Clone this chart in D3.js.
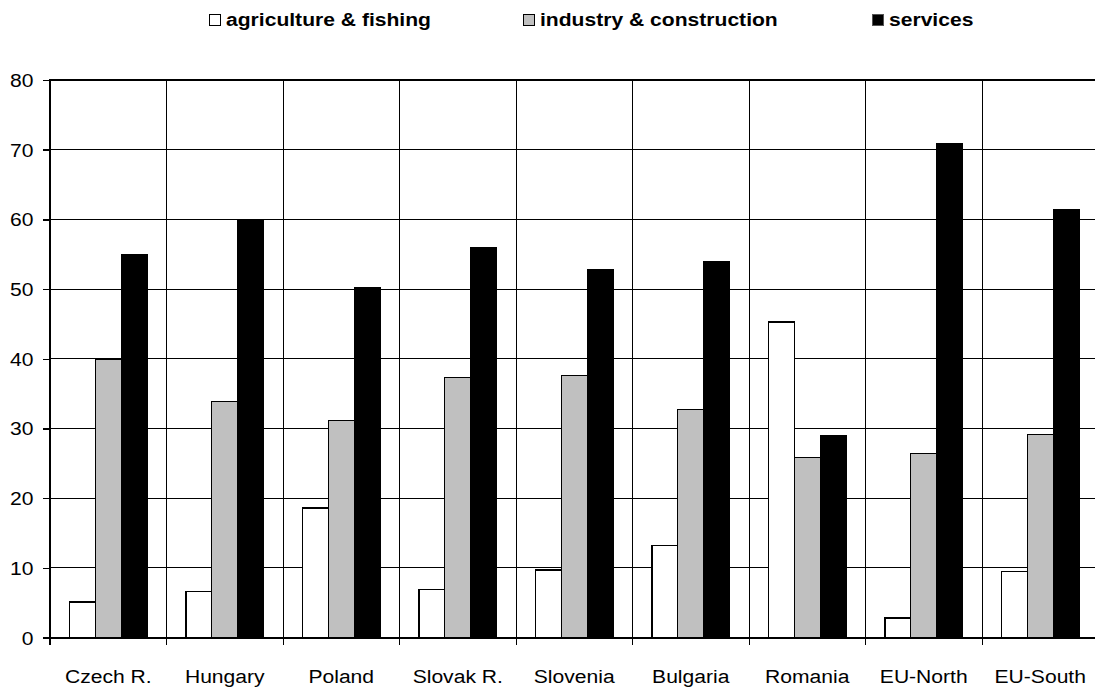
<!DOCTYPE html>
<html>
<head>
<meta charset="utf-8">
<script src="https://cdn.jsdelivr.net/npm/d3@7"></script>
<style>
  body { margin: 0; background: #fff; }
  text { font-family: "Liberation Sans", Arial, sans-serif; fill: #000; }
  line, rect { shape-rendering: crispEdges; }
</style>
</head>
<body>
<div id="chart"></div>
<script>
// chart data (share of employment, %)
var categories = ["Czech R.", "Hungary", "Poland", "Slovak R.", "Slovenia", "Bulgaria", "Romania", "EU-North", "EU-South"];
var seriesNames = ["agriculture & fishing", "industry & construction", "services"];
var agriculture = [5.1, 6.6, 18.6, 6.9, 9.7, 13.2, 45.3, 2.8, 9.5];
var industry = [39.9, 33.8, 31.2, 37.3, 37.6, 32.7, 25.8, 26.4, 29.2];
var services = [54.9, 59.8, 50.2, 56.0, 52.8, 54.0, 29.0, 70.9, 61.4];
var yTicks = [0, 10, 20, 30, 40, 50, 60, 70, 80];

var seriesValues = [agriculture, industry, services];
var seriesFill = ["#ffffff", "#c0c0c0", "#000000"];

var width = 1095, height = 689;
var margin = {left: 50, top: 80, bottom: 51.5};
var plotRight = 1098.5;   // the plot runs a little past the right edge
var fontSize = 19, stretch = 1.11;

var svg = d3.select('#chart').append('svg')
    .attr('width', width)
    .attr('height', height);

var x = d3.scaleBand()
    .domain(categories)
    .range([margin.left, plotRight])
    .padding(0);

var xSeries = d3.scaleBand()
    .domain(d3.range(seriesNames.length))
    .range([0, x.bandwidth()])
    .paddingInner(0)
    .paddingOuter(0.75);

var y = d3.scaleLinear()
    .domain([0, 80])
    .range([height - margin.bottom, margin.top]);

// text drawn a little wider than tall, like the original
var stretchedText = function(sel, tx, ty, anchor, str, bold) {
    return sel.append('text')
        .attr('transform', 'translate(' + tx + ',' + ty + ') scale(' + stretch + ',1)')
        .attr('text-anchor', anchor)
        .style('font-size', fontSize + 'px')
        .style('font-weight', bold ? 'bold' : 'normal')
        .text(str);
};

// horizontal grid lines (behind the bars)
svg.append('g').selectAll('line')
    .data(yTicks.filter(function(d) { return d > 0; }))
    .enter().append('line')
    .attr('x1', margin.left).attr('x2', plotRight)
    .attr('y1', function(d) { return y(d); })
    .attr('y2', function(d) { return y(d); })
    .attr('stroke', '#000')
    .attr('stroke-width', function(d) { return d == 80 ? 2 : 1; });

// vertical lines between categories, running down into ticks
var bounds = categories.slice(1).map(function(c) { return x(c); });
svg.append('g').selectAll('line')
    .data(bounds)
    .enter().append('line')
    .attr('x1', function(d) { return d; })
    .attr('x2', function(d) { return d; })
    .attr('y1', y(80))
    .attr('y2', y(0) + 7)
    .attr('stroke', '#000')
    .attr('stroke-width', 1);

// bars
var groups = svg.append('g').selectAll('g')
    .data(categories)
    .enter().append('g')
    .attr('transform', function(d) { return 'translate(' + x(d) + ',0)'; });

groups.selectAll('rect')
    .data(function(d, i) {
        return seriesValues.map(function(vals, s) { return {s: s, v: vals[i]}; });
    })
    .enter().append('rect')
    .attr('x', function(d) { return xSeries(d.s); })
    .attr('width', xSeries.bandwidth())
    .attr('y', function(d) { return y(d.v); })
    .attr('height', function(d) { return y(0) - y(d.v); })
    .attr('fill', function(d) { return seriesFill[d.s]; })
    .attr('stroke', '#000')
    .attr('stroke-width', function(d) { return d.s == 0 ? 1.5 : 1; });

// y axis
var yAxis = d3.axisLeft(y).tickValues(yTicks).tickSize(7).tickFormat('');
var yAxisG = svg.append('g')
    .attr('transform', 'translate(' + margin.left + ',0)')
    .call(yAxis);
yAxisG.select('.domain').remove();
yAxisG.selectAll('.tick line').attr('stroke', '#000').attr('stroke-width', 1.4);
yAxisG.append('line')
    .attr('y1', y(80) - 1).attr('y2', y(0) + 7)
    .attr('stroke', '#000').attr('stroke-width', 2);
yTicks.forEach(function(t) {
    stretchedText(svg, 33.5, y(t) + 7, 'end', t);
});

// x axis
svg.append('line')
    .attr('x1', margin.left).attr('x2', plotRight)
    .attr('y1', y(0)).attr('y2', y(0))
    .attr('stroke', '#000').attr('stroke-width', 2);
categories.forEach(function(c) {
    stretchedText(svg, x(c) + x.bandwidth() / 2, 683, 'middle', c);
});

// legend
var legendX = [209, 523, 872];
var legend = svg.append('g');
seriesNames.forEach(function(name, i) {
    legend.append('rect')
        .attr('x', legendX[i]).attr('y', 14)
        .attr('width', 11).attr('height', 11)
        .attr('fill', seriesFill[i])
        .attr('stroke', i == 2 ? '#555' : '#000')
        .attr('stroke-width', 1);
    stretchedText(legend, legendX[i] + 17, 26, 'start', name, true);
});
</script>
</body>
</html>
